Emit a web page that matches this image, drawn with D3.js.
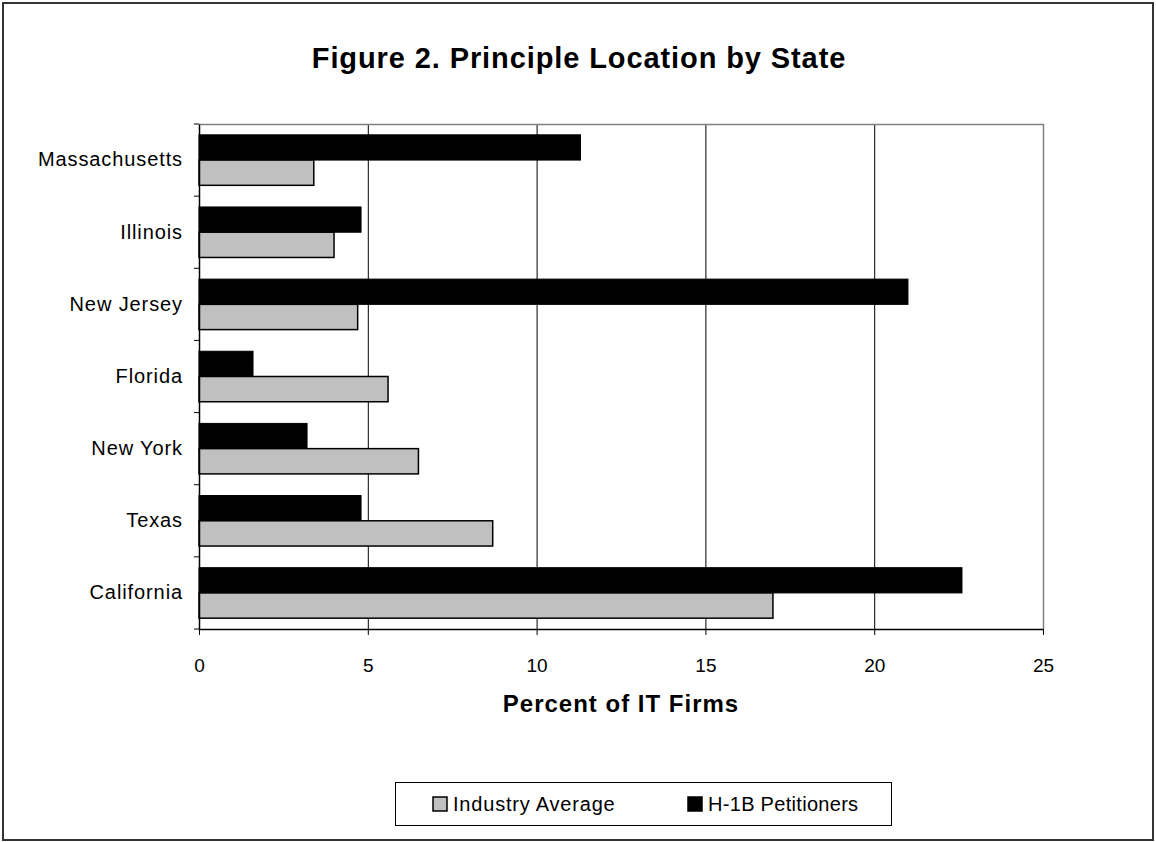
<!DOCTYPE html>
<html>
<head>
<meta charset="utf-8">
<script src="https://cdn.jsdelivr.net/npm/d3@7"></script>
<style>
  html, body { margin: 0; padding: 0; background: #fff; }
  svg { display: block; font-family: "Liberation Sans", Arial, sans-serif; }
</style>
</head>
<body>
<svg id="chart" width="1156" height="842"></svg>
<script>
// States, listed top to bottom
const states = ["Massachusetts", "Illinois", "New Jersey", "Florida", "New York", "Texas", "California"];
// Percent of IT firms per state
const industryAverage = [3.4, 4.0, 4.7, 5.6, 6.5, 8.7, 17.0];
const h1bPetitioners  = [11.3, 4.8, 21.0, 1.6, 3.2, 4.8, 22.6];
const xTicks = [0, 5, 10, 15, 20, 25];
const seriesNames = ["Industry Average", "H-1B Petitioners"];

const svg = d3.select("#chart");
const W = 1156, H = 842;
const plot = { left: 199, top: 124, right: 1043, bottom: 629 };

// outer frame
svg.append("rect")
  .attr("x", 3).attr("y", 3).attr("width", W - 6).attr("height", H - 5)
  .attr("fill", "#fff").attr("stroke", "#333").attr("stroke-width", 2);

// title
svg.append("text")
  .attr("x", 579).attr("y", 67.5)
  .attr("text-anchor", "middle")
  .attr("font-size", 29).attr("font-weight", "bold")
  .attr("letter-spacing", 0.9)
  .text("Figure 2. Principle Location by State");

const x = d3.scaleLinear().domain([0, 25]).range([plot.left, plot.right]);
const y = d3.scaleBand().domain(states).range([plot.top, plot.bottom]).padding(0);
const barH = y.bandwidth() * 0.35;
const groupOffset = (y.bandwidth() - 2 * barH) / 2;

// vertical gridlines
svg.append("g")
  .selectAll("line")
  .data(xTicks.slice(1, -1))
  .join("line")
  .attr("x1", d => x(d) + 0.5).attr("x2", d => x(d) + 0.5)
  .attr("y1", plot.top).attr("y2", plot.bottom)
  .attr("stroke", "#000").attr("stroke-width", 1);

// plot area border (top and right)
svg.append("path")
  .attr("d", `M${plot.left},${plot.top + 0.5}H${plot.right + 0.5}V${plot.bottom}`)
  .attr("fill", "none").attr("stroke", "#808080").attr("stroke-width", 1.5);

// bars
const rows = states.map((s, i) => ({ state: s, ind: industryAverage[i], h1b: h1bPetitioners[i] }));

const bars = svg.append("g");
bars.selectAll("rect.h1b")
  .data(rows)
  .join("rect")
  .attr("class", "h1b")
  .attr("x", x(0))
  .attr("y", d => y(d.state) + groupOffset)
  .attr("width", d => x(d.h1b) - x(0))
  .attr("height", barH)
  .attr("fill", "#000")
  .attr("stroke", "#000").attr("stroke-width", 1);

bars.selectAll("rect.ind")
  .data(rows)
  .join("rect")
  .attr("class", "ind")
  .attr("x", x(0))
  .attr("y", d => y(d.state) + groupOffset + barH)
  .attr("width", d => x(d.ind) - x(0))
  .attr("height", barH)
  .attr("fill", "#c0c0c0")
  .attr("stroke", "#000").attr("stroke-width", 1.5);

// x axis
const xAxis = svg.append("g")
  .attr("transform", `translate(0,${plot.bottom})`)
  .call(d3.axisBottom(x).tickValues(xTicks).tickSize(6).tickSizeOuter(0).tickPadding(24));
xAxis.select(".domain").attr("stroke", "#000").attr("stroke-width", 1.5);
xAxis.selectAll(".tick line").attr("stroke", "#000");
xAxis.selectAll(".tick text")
  .attr("font-size", 19).attr("font-family", "Liberation Sans, Arial, sans-serif")
  .attr("fill", "#000");

// y axis with ticks at band boundaries
const yAxis = svg.append("g")
  .attr("transform", `translate(${plot.left},0)`)
  .call(d3.axisLeft(y).tickSize(0).tickPadding(16));
yAxis.select(".domain").attr("stroke", "#000").attr("stroke-width", 1.5);
yAxis.selectAll(".tick text")
  .attr("font-size", 20).attr("font-family", "Liberation Sans, Arial, sans-serif")
  .attr("letter-spacing", 0.9)
  .attr("fill", "#000");
svg.append("g")
  .selectAll("line")
  .data(states.map(s => y(s)).concat([plot.bottom]))
  .join("line")
  .attr("x1", plot.left - 5).attr("x2", plot.left)
  .attr("y1", d => d).attr("y2", d => d)
  .attr("stroke", "#000");

// axis title
svg.append("text")
  .attr("x", 621).attr("y", 711.5)
  .attr("text-anchor", "middle")
  .attr("font-size", 24).attr("font-weight", "bold")
  .attr("letter-spacing", 1)
  .text("Percent of IT Firms");

// legend
const legend = svg.append("g");
legend.append("rect")
  .attr("x", 395.5).attr("y", 782.5).attr("width", 496).attr("height", 43)
  .attr("fill", "#fff").attr("stroke", "#000").attr("stroke-width", 1);

const legendItems = [
  { name: seriesNames[0], fill: "#c0c0c0", x: 433, ls: 0.8 },
  { name: seriesNames[1], fill: "#000", x: 688, ls: 0.3 }
];
const li = legend.selectAll("g.item").data(legendItems).join("g").attr("class", "item");
li.append("rect")
  .attr("x", d => d.x).attr("y", 797)
  .attr("width", 14).attr("height", 14)
  .attr("fill", d => d.fill).attr("stroke", "#000").attr("stroke-width", 1.5);
li.append("text")
  .attr("x", d => d.x + 20).attr("y", 811)
  .attr("font-size", 20).attr("letter-spacing", d => d.ls)
  .text(d => d.name);
</script>
</body>
</html>
